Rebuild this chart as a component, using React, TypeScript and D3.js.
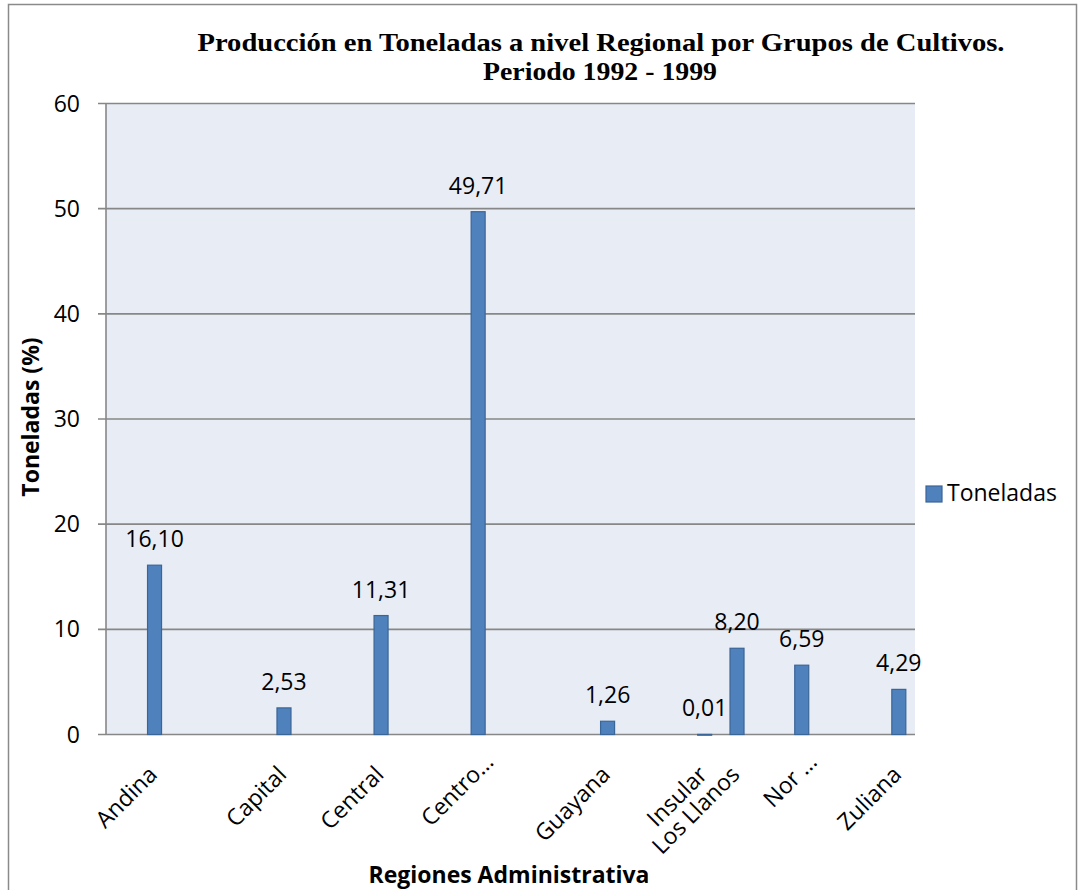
import React from "react";
import * as d3 from "d3";

const regions = ["Andina", "Capital", "Central", "Centro…", "Guayana", "Insular", "Los Llanos", "Nor …", "Zuliana"];
const values = [16.10, 2.53, 11.31, 49.71, 1.26, 0.01, 8.20, 6.59, 4.29];
// category slot of each region on the original 25-slot category axis
const slotIndex = [1, 5, 8, 11, 15, 18, 19, 21, 24];
const slotCount = 25;
const yTicks = [0, 10, 20, 30, 40, 50, 60];
const titleLines = ["Producción en Toneladas a nivel Regional por Grupos de Cultivos.", "Periodo 1992 - 1999"];
const seriesName = "Toneladas";
const yTitle = "Toneladas (%)";
const xTitle = "Regiones Administrativa";

const W = 1081, H = 890;
const plot = { left: 106, right: 915, top: 103.5, bottom: 734.5 };
const FONT = "'Open Sans', 'Noto Sans', sans-serif";
const BAR = "#4F81BD", BAR_STROKE = "#3A6597", GRID = "#878787";

export default function App() {
  const pad = 1 - 14 / ((plot.right - plot.left) / slotCount);
  const x = d3.scaleBand<number>()
    .domain(d3.range(slotCount))
    .range([plot.left, plot.right])
    .paddingInner(pad)
    .paddingOuter(pad / 2);
  const y = d3.scaleLinear().domain([0, 60]).range([plot.bottom, plot.top]);
  const fmt = (v: number) => v.toFixed(2).replace(".", ",");

  return (
    <svg width={W} height={H} style={{ position: "absolute", left: 0, top: 0, background: "#fff" }}>
      <rect x={8.5} y={4.5} width={1068} height={H} fill="#fff" stroke="#8a8a8a" strokeWidth={1.5} />
      {/* title */}
      <g fontFamily="'Liberation Serif', 'Times New Roman', Times, serif" fontWeight="bold" fontSize={25} fill="#000" textAnchor="middle">
        <text x={601} y={51} textLength={807} lengthAdjust="spacingAndGlyphs">{titleLines[0]}</text>
        <text x={600} y={80} textLength={234} lengthAdjust="spacingAndGlyphs">{titleLines[1]}</text>
      </g>
      {/* plot area */}
      <rect x={plot.left} y={plot.top} width={plot.right - plot.left} height={plot.bottom - plot.top} fill="#E8ECF4" />
      {yTicks.map((t) => (
        <g key={t}>
          <line x1={plot.left - 8} x2={plot.right} y1={y(t)} y2={y(t)} stroke={GRID} strokeWidth={1.6} />
          <text x={80} y={y(t)} dy="0.35em" textAnchor="end" fontFamily={FONT} fontSize={23} fill="#000">{t}</text>
        </g>
      ))}
      <line x1={plot.left} x2={plot.left} y1={plot.top} y2={plot.bottom} stroke={GRID} strokeWidth={1.6} />
      {/* bars */}
      {values.map((v, i) => {
        const bx = x(slotIndex[i])!;
        const by = y(v);
        return (
          <g key={regions[i]}>
            <rect x={bx} y={by} width={x.bandwidth()} height={Math.max(0.8, plot.bottom - by)} fill={BAR} stroke={BAR_STROKE} strokeWidth={1.2} />
            <text x={bx + x.bandwidth() / 2} y={by - 18} textAnchor="middle" fontFamily={FONT} fontSize={23} fill="#000">{fmt(v)}</text>
          </g>
        );
      })}
      {/* category labels */}
      {regions.map((r, i) => {
        const cx = x(slotIndex[i])! + x.bandwidth() / 2;
        const shift = r.endsWith("…") ? 18 : 0;
        const ax = cx + 4 + shift * Math.SQRT1_2;
        const ay = 776 - shift * Math.SQRT1_2;
        return (
          <text key={r} transform={`translate(${ax},${ay}) rotate(-45)`} textAnchor="end" fontFamily={FONT} fontSize={23} fill="#000">{r}</text>
        );
      })}
      {/* axis titles */}
      <text transform="translate(39,417) rotate(-90)" textAnchor="middle" fontFamily={FONT} fontWeight="bold" fontSize={23} fill="#000">{yTitle}</text>
      <text x={509} y={883} textAnchor="middle" fontFamily={FONT} fontWeight="bold" fontSize={23} fill="#000">{xTitle}</text>
      {/* legend */}
      <rect x={926} y={486} width={16} height={16} fill={BAR} stroke={BAR_STROKE} strokeWidth={1.2} />
      <text x={947} y={501} fontFamily={FONT} fontSize={23} fill="#000">{seriesName}</text>
    </svg>
  );
}
